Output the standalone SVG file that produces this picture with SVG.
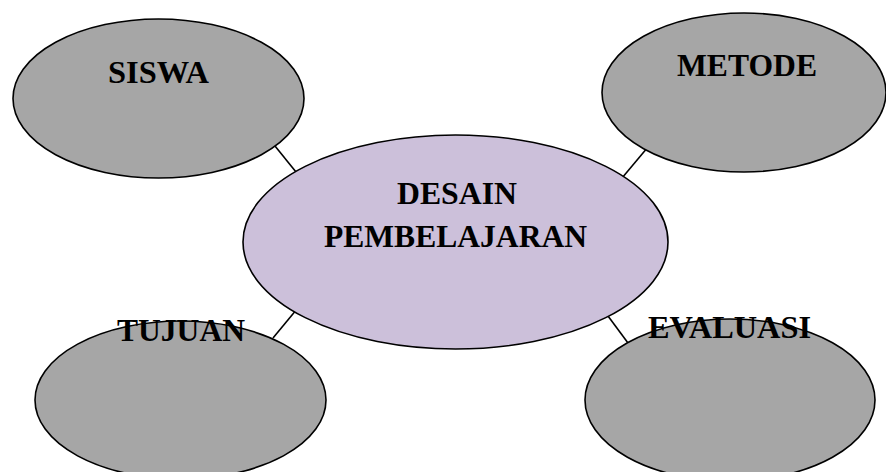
<svg xmlns="http://www.w3.org/2000/svg" width="886" height="472" viewBox="0 0 886 472">
<style>
.n{fill:#a6a6a6;stroke:#000;stroke-width:1.6}
.c{fill:#ccc0da;stroke:#000;stroke-width:1.6}
.l{stroke:#000;stroke-width:1.6;fill:none}
text{font-family:"Liberation Serif","Times New Roman",serif;font-weight:bold;font-size:32px;fill:#000}
</style>
<rect width="886" height="472" fill="#fff"/>
<g id="connectors">
<line class="l" x1="275" y1="146" x2="296" y2="172"/>
<line class="l" x1="648" y1="147" x2="622" y2="178"/>
<line class="l" x1="273" y1="338" x2="297" y2="309"/>
<line class="l" x1="608" y1="316" x2="628" y2="343"/>
</g>
<g id="siswa">
<ellipse class="n" cx="158.5" cy="98.5" rx="145.5" ry="79.5"/>
<text x="108" y="83" textLength="101" lengthAdjust="spacingAndGlyphs">SISWA</text>
</g>
<g id="metode">
<ellipse class="n" cx="744" cy="92.5" rx="142" ry="79.5"/>
<text x="677" y="76" textLength="140" lengthAdjust="spacingAndGlyphs">METODE</text>
</g>
<g id="tujuan">
<ellipse class="n" cx="180.5" cy="400" rx="145.5" ry="79"/>
</g>
<g id="evaluasi">
<ellipse class="n" cx="730" cy="400" rx="145" ry="81"/>
</g>
<g id="desain">
<ellipse class="c" cx="455.5" cy="242" rx="212.5" ry="107"/>
<text x="397" y="204" textLength="120" lengthAdjust="spacingAndGlyphs">DESAIN</text>
<text x="324" y="247" textLength="263" lengthAdjust="spacingAndGlyphs">PEMBELAJARAN</text>
</g>
<g id="labels">
<text x="117" y="341" textLength="128" lengthAdjust="spacingAndGlyphs">TUJUAN</text>
<text x="648" y="338" textLength="163" lengthAdjust="spacingAndGlyphs">EVALUASI</text>
</g>
</svg>
